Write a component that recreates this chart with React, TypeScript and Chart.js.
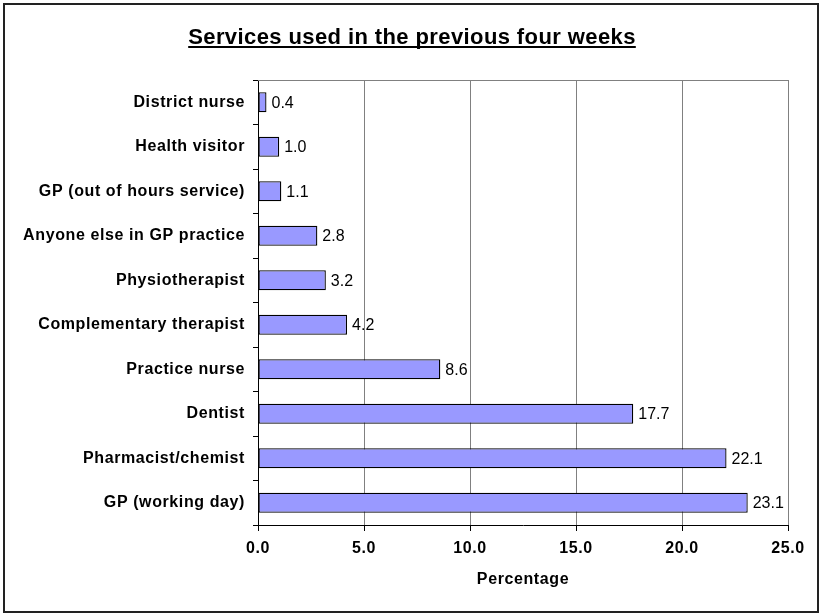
import React, { useEffect, useRef } from "react";
import { Chart, registerables } from "chart.js";

Chart.register(...registerables);

const categories = [
  "District nurse",
  "Health visitor",
  "GP (out of hours service)",
  "Anyone else in GP practice",
  "Physiotherapist",
  "Complementary therapist",
  "Practice nurse",
  "Dentist",
  "Pharmacist/chemist",
  "GP (working day)",
];
const values = [0.4, 1.0, 1.1, 2.8, 3.2, 4.2, 8.6, 17.7, 22.1, 23.1];
const titleText = "Services used in the previous four weeks";
const xAxisTitle = "Percentage";
const xMin = 0;
const xMax = 25;
const xStep = 5;

const FONT = "'Liberation Sans', Arial, sans-serif";

const framePlugin = {
  id: "framePlugin",
  beforeDraw(chart: any) {
    const { ctx, width, height } = chart;
    ctx.save();
    ctx.fillStyle = "#ffffff";
    ctx.fillRect(0, 0, width, height);
    ctx.strokeStyle = "#222222";
    ctx.lineWidth = 2;
    ctx.strokeRect(4, 4, width - 7, height - 7);
    ctx.restore();
    ctx.letterSpacing = "0.6px";
  },
  afterDraw(chart: any) {
    const { ctx, chartArea } = chart;
    ctx.save();
    ctx.strokeStyle = "#808080";
    ctx.lineWidth = 1;
    ctx.beginPath();
    ctx.moveTo(chartArea.left, Math.round(chartArea.top) + 0.5);
    ctx.lineTo(chartArea.right, Math.round(chartArea.top) + 0.5);
    ctx.stroke();
    ctx.font = `bold 22px ${FONT}`;
    ctx.letterSpacing = "0.4px";
    ctx.fillStyle = "#000";
    ctx.textAlign = "left";
    ctx.textBaseline = "alphabetic";
    const w = ctx.measureText(titleText).width;
    const cx = 412;
    const by = 44;
    ctx.fillText(titleText, cx - w / 2, by);
    ctx.strokeStyle = "#000";
    ctx.lineWidth = 2;
    ctx.beginPath();
    ctx.moveTo(cx - w / 2, by + 3);
    ctx.lineTo(cx + w / 2, by + 3);
    ctx.stroke();
    ctx.restore();
  },
};

const valueLabelPlugin = {
  id: "valueLabelPlugin",
  afterDatasetsDraw(chart: any) {
    const { ctx } = chart;
    const meta = chart.getDatasetMeta(0);
    ctx.save();
    ctx.font = `16px ${FONT}`;
    ctx.letterSpacing = "0px";
    ctx.fillStyle = "#000";
    ctx.textAlign = "left";
    ctx.textBaseline = "middle";
    meta.data.forEach((el: any, i: number) => {
      ctx.fillText(values[i].toFixed(1), el.x + 5, el.y + 1);
    });
    ctx.restore();
  },
};

export default function App() {
  const ref = useRef<HTMLCanvasElement>(null);
  useEffect(() => {
    if (!ref.current) return;
    const chart = new Chart(ref.current, {
      type: "bar",
      data: {
        labels: categories,
        datasets: [
          {
            data: values,
            backgroundColor: "#9999FF",
            borderColor: "#000000",
            borderWidth: 1.3,
            borderSkipped: false,
            barPercentage: 0.45,
            categoryPercentage: 1,
          },
        ],
      },
      options: {
        indexAxis: "y",
        animation: false,
        responsive: false,
        maintainAspectRatio: false,
        layout: { padding: { top: 80, right: 33, bottom: 22, left: 0 } },
        plugins: {
          legend: { display: false },
          tooltip: { enabled: false },
          title: { display: false },
        },
        scales: {
          x: {
            min: xMin,
            max: xMax,
            ticks: {
              stepSize: xStep,
              color: "#000",
              font: { family: FONT, size: 16, weight: "bold" },
              padding: 8,
              callback: (v: any) => Number(v).toFixed(1),
            },
            grid: {
              color: "#808080",
              tickColor: "#000",
              tickLength: 6,
              drawOnChartArea: true,
            },
            border: { display: true, color: "#000", width: 1 },
            title: {
              display: true,
              text: xAxisTitle,
              color: "#000",
              font: { family: FONT, size: 16, weight: "bold" },
              padding: { top: 4, bottom: 4 },
            },
            afterFit: (scale: any) => {
              scale.height = 68;
            },
          },
          y: {
            ticks: {
              color: "#000",
              font: { family: FONT, size: 16, weight: "bold" },
              padding: 8,
            },
            grid: {
              display: true,
              drawOnChartArea: false,
              drawTicks: true,
              tickLength: 5,
              tickColor: "#000",
              offset: true,
            },
            border: { display: true, color: "#000", width: 1 },
            afterFit: (scale: any) => {
              scale.width = 258;
            },
          },
        },
      },
      plugins: [framePlugin, valueLabelPlugin],
    } as any);
    return () => chart.destroy();
  }, []);
  return (
    <div style={{ position: "absolute", left: 0, top: 0, width: 821, height: 615 }}>
      <canvas ref={ref} width={821} height={615} style={{ display: "block" }} />
    </div>
  );
}
